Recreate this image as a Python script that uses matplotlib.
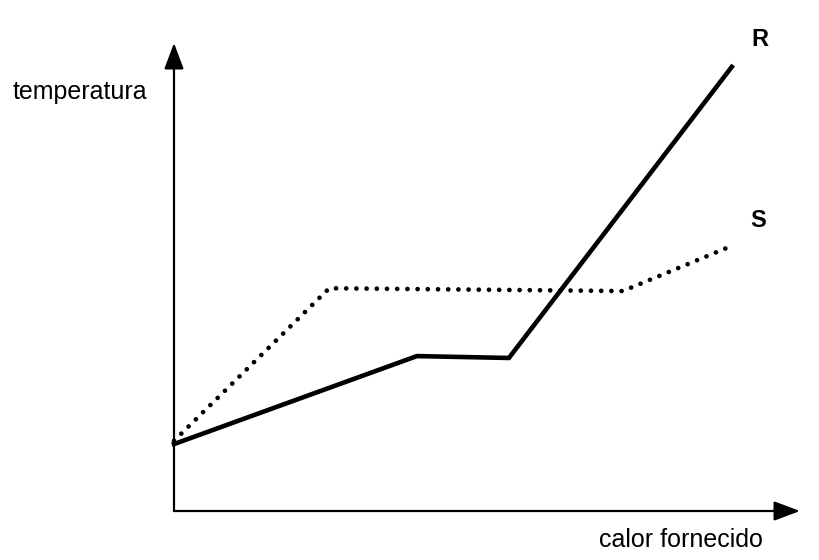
import matplotlib.pyplot as plt

# heat supplied (arbitrary units) and temperature for the two substances
r_heat = [0, 38.8, 53.5, 89.1]
r_temp = [14.3, 33.1, 32.7, 94.9]

s_heat = [0, 24.8, 71.7, 89.0]
s_temp = [15.0, 47.6, 47.0, 56.6]

plt.rcParams['font.family'] = ['Liberation Sans', 'DejaVu Sans']

fig = plt.figure(figsize=(8.2, 5.6), dpi=100)
W, H = 820, 560
# axes placed so that the origin sits where the arrows start
ax = fig.add_axes([174 / W, 1 - 511 / H, (800 - 174) / W, (511 - 43) / H])
ax.set_xlim(0, 100)
ax.set_ylim(0, 100)
ax.axis('off')

arrow = dict(arrowstyle='-|>,head_length=0.8,head_width=0.3', color='black',
             lw=1.6, mutation_scale=20, shrinkA=0, shrinkB=0)
ax.annotate('', xy=(100, 0), xytext=(0, 0), arrowprops=arrow, annotation_clip=False)
ax.annotate('', xy=(0, 100), xytext=(0, 0), arrowprops=arrow, annotation_clip=False)

ax.plot(r_heat, r_temp, color='black', lw=3.3, solid_joinstyle='miter', clip_on=False)
ax.plot(s_heat, s_temp, color='black', lw=3.4, linestyle=(0, (0.01, 2.15)),
        dash_capstyle='round', clip_on=False)

fig.text(13 / W, 1 - 92 / H, 'temperatura', fontsize=18, va='center', ha='left')
fig.text(599 / W, 1 - 540 / H, 'calor fornecido', fontsize=18, va='center', ha='left')
fig.text(760 / W, 1 - 39 / H, 'R', fontsize=17, fontweight='bold', va='center', ha='center')
fig.text(758 / W, 1 - 221 / H, 'S', fontsize=17, fontweight='bold', va='center', ha='center')

plt.savefig('out.png', dpi=100)
